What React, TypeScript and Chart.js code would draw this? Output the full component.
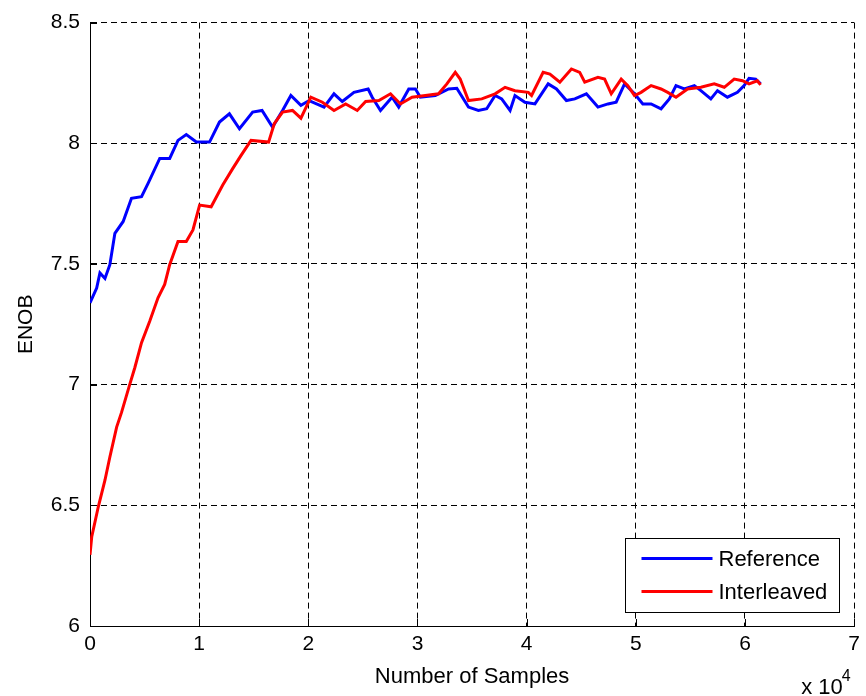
import React, { useEffect, useRef } from 'react';
import { Chart, registerables } from 'chart.js';

Chart.register(...registerables);

// Number of samples, in units of 10^4
const referenceX = [0, 0.061, 0.091, 0.137, 0.182, 0.228, 0.304, 0.380, 0.472, 0.532, 0.639, 0.730, 0.806, 0.882, 0.974, 1.095, 1.186, 1.277, 1.369, 1.490, 1.576, 1.672, 1.764, 1.840, 1.932, 2.007, 2.144, 2.235, 2.311, 2.418, 2.548, 2.585, 2.661, 2.767, 2.828, 2.920, 2.981, 3.026, 3.163, 3.285, 3.360, 3.467, 3.558, 3.634, 3.711, 3.771, 3.848, 3.893, 3.984, 4.076, 4.197, 4.273, 4.364, 4.441, 4.547, 4.653, 4.745, 4.820, 4.897, 4.988, 5.064, 5.140, 5.231, 5.307, 5.368, 5.444, 5.536, 5.596, 5.687, 5.748, 5.839, 5.931, 5.992, 6.037, 6.098, 6.143];
const referenceY = [7.339, 7.40, 7.463, 7.44, 7.497, 7.627, 7.676, 7.772, 7.779, 7.834, 7.937, 7.937, 8.012, 8.036, 8.005, 8.005, 8.088, 8.122, 8.06, 8.129, 8.136, 8.067, 8.136, 8.198, 8.157, 8.177, 8.15, 8.205, 8.173, 8.211, 8.225, 8.191, 8.136, 8.191, 8.15, 8.225, 8.225, 8.191, 8.198, 8.225, 8.228, 8.15, 8.136, 8.143, 8.198, 8.184, 8.136, 8.198, 8.17, 8.163, 8.246, 8.225, 8.177, 8.184, 8.205, 8.15, 8.163, 8.17, 8.246, 8.205, 8.163, 8.163, 8.143, 8.184, 8.239, 8.225, 8.239, 8.218, 8.184, 8.218, 8.191, 8.211, 8.239, 8.269, 8.266, 8.246];

const interleavedX = [0, 0.016, 0.076, 0.137, 0.182, 0.244, 0.289, 0.365, 0.411, 0.472, 0.547, 0.623, 0.684, 0.730, 0.806, 0.882, 0.943, 1.004, 1.110, 1.216, 1.307, 1.384, 1.475, 1.636, 1.688, 1.764, 1.855, 1.932, 2.023, 2.129, 2.235, 2.342, 2.448, 2.525, 2.646, 2.753, 2.844, 2.950, 3.072, 3.193, 3.269, 3.346, 3.391, 3.467, 3.589, 3.711, 3.802, 3.893, 4.015, 4.045, 4.151, 4.213, 4.304, 4.410, 4.486, 4.532, 4.653, 4.714, 4.775, 4.866, 4.927, 4.988, 5.048, 5.140, 5.231, 5.292, 5.368, 5.474, 5.596, 5.718, 5.810, 5.901, 5.977, 6.037, 6.113, 6.143];
const interleavedY = [6.295, 6.370, 6.494, 6.604, 6.70, 6.824, 6.885, 7.002, 7.071, 7.174, 7.263, 7.36, 7.415, 7.497, 7.593, 7.593, 7.641, 7.744, 7.737, 7.827, 7.895, 7.95, 8.012, 8.005, 8.081, 8.129, 8.136, 8.104, 8.191, 8.17, 8.136, 8.163, 8.136, 8.173, 8.177, 8.205, 8.163, 8.191, 8.198, 8.205, 8.246, 8.294, 8.266, 8.177, 8.184, 8.205, 8.232, 8.218, 8.211, 8.198, 8.294, 8.287, 8.253, 8.308, 8.294, 8.253, 8.273, 8.266, 8.205, 8.266, 8.239, 8.198, 8.211, 8.239, 8.225, 8.211, 8.191, 8.225, 8.232, 8.246, 8.232, 8.266, 8.259, 8.246, 8.259, 8.242];

const xTickValues = [0, 1, 2, 3, 4, 5, 6, 7];
const yTickValues = [6, 6.5, 7, 7.5, 8, 8.5];
const seriesLabels = ['Reference', 'Interleaved'];
const seriesColors = ['#0000ff', '#ff0000'];
const xAxisTitle = 'Number of Samples';
const yAxisTitle = 'ENOB';
const exponentBase = 'x 10';
const exponentPower = '4';

const FONT = '"Liberation Sans", Arial, Helvetica, sans-serif';

const zip = (xs: number[], ys: number[]) => xs.map((x, i) => ({ x, y: ys[i] }));

const matlabDecor = {
  id: 'matlabDecor',
  afterDraw(chart: any) {
    const { ctx, chartArea, scales } = chart;
    const xs = scales.x;
    const ys = scales.y;
    ctx.save();
    // inward ticks
    ctx.strokeStyle = '#000';
    ctx.lineWidth = 1;
    ctx.setLineDash([]);
    ctx.beginPath();
    xTickValues.forEach((v) => {
      const px = Math.round(xs.getPixelForValue(v)) + 0.5;
      ctx.moveTo(px, chartArea.bottom);
      ctx.lineTo(px, chartArea.bottom - 7);
    });
    yTickValues.forEach((v) => {
      const py = Math.round(ys.getPixelForValue(v)) + 0.5;
      ctx.moveTo(chartArea.left, py);
      ctx.lineTo(chartArea.left + 7, py);
    });
    ctx.stroke();

    // legend box
    const boxW = 214;
    const boxH = 74;
    const bx = Math.round(chartArea.right - 15 - boxW) + 0.5;
    const by = Math.round(chartArea.bottom - 14 - boxH) + 0.5;
    ctx.fillStyle = '#fff';
    ctx.fillRect(bx, by, boxW, boxH);
    ctx.strokeStyle = '#000';
    ctx.lineWidth = 1;
    ctx.strokeRect(bx, by, boxW, boxH);
    ctx.font = `22px ${FONT}`;
    ctx.textBaseline = 'middle';
    ctx.textAlign = 'left';
    seriesLabels.forEach((label, i) => {
      const ly = by + 20 + i * 33;
      ctx.strokeStyle = seriesColors[i];
      ctx.lineWidth = 3;
      ctx.beginPath();
      ctx.moveTo(bx + 16, ly);
      ctx.lineTo(bx + 87, ly);
      ctx.stroke();
      ctx.fillStyle = '#000';
      ctx.fillText(label, bx + 93, ly + 1);
    });

    // exponent label
    ctx.fillStyle = '#000';
    ctx.textBaseline = 'alphabetic';
    ctx.font = `22px ${FONT}`;
    const ex = chartArea.right - 53;
    ctx.fillText(exponentBase, ex, 694);
    const w = ctx.measureText(exponentBase).width;
    ctx.font = `16px ${FONT}`;
    ctx.fillText(exponentPower, ex + w - 1, 681);
    ctx.restore();
  },
};

export default function App() {
  const canvasRef = useRef<HTMLCanvasElement | null>(null);

  useEffect(() => {
    document.body.style.margin = '0';
    const canvas = canvasRef.current;
    if (!canvas) return;
    const chart = new Chart(canvas, {
      type: 'line',
      data: {
        datasets: [
          {
            label: seriesLabels[0],
            data: zip(referenceX, referenceY),
            borderColor: seriesColors[0],
            backgroundColor: seriesColors[0],
            borderWidth: 3,
            pointRadius: 0,
            tension: 0,
            fill: false,
            order: 1,
          },
          {
            label: seriesLabels[1],
            data: zip(interleavedX, interleavedY),
            borderColor: seriesColors[1],
            backgroundColor: seriesColors[1],
            borderWidth: 3,
            pointRadius: 0,
            tension: 0,
            fill: false,
            order: 0,
          },
        ],
      },
      options: {
        animation: false,
        responsive: false,
        maintainAspectRatio: false,
        layout: { padding: { left: 0, right: 8, top: 20, bottom: 0 } },
        plugins: {
          legend: { display: false },
          tooltip: { enabled: false },
        },
        scales: {
          x: {
            type: 'linear',
            min: 0,
            max: 7,
            afterFit: (scale: any) => {
              scale.height = 70;
            },
            afterBuildTicks: (scale: any) => {
              scale.ticks = xTickValues.map((v) => ({ value: v }));
            },
            ticks: {
              color: '#000',
              padding: 6,
              font: { family: FONT, size: 21 },
              maxRotation: 0,
              callback: (v: any) => String(v),
            },
            grid: {
              color: '#000',
              lineWidth: 1,
              drawTicks: false,
            },
            border: { display: true, color: '#000', width: 1, dash: [6, 4] },
            title: {
              display: true,
              text: xAxisTitle,
              color: '#000',
              font: { family: FONT, size: 22 },
              padding: { top: 0, bottom: 6 },
            },
          },
          y: {
            type: 'linear',
            min: 6,
            max: 8.5,
            afterFit: (scale: any) => {
              scale.width = 90;
            },
            afterBuildTicks: (scale: any) => {
              scale.ticks = yTickValues.map((v) => ({ value: v }));
            },
            ticks: {
              color: '#000',
              padding: 10,
              font: { family: FONT, size: 21 },
              callback: (v: any) => String(v),
            },
            grid: {
              color: '#000',
              lineWidth: 1,
              drawTicks: false,
            },
            border: { display: true, color: '#000', width: 1, dash: [6, 4] },
            title: {
              display: true,
              text: yAxisTitle,
              color: '#000',
              font: { family: FONT, size: 21 },
              padding: { top: 14, bottom: 0 },
            },
          },
        },
      },
      plugins: [matlabDecor],
    } as any);
    return () => chart.destroy();
  }, []);

  return (
    <div style={{ position: 'absolute', left: 0, top: 0, width: 866, height: 696, background: '#fff' }}>
      <canvas ref={canvasRef} width={866} height={696} style={{ display: 'block', width: 866, height: 696 }} />
    </div>
  );
}
